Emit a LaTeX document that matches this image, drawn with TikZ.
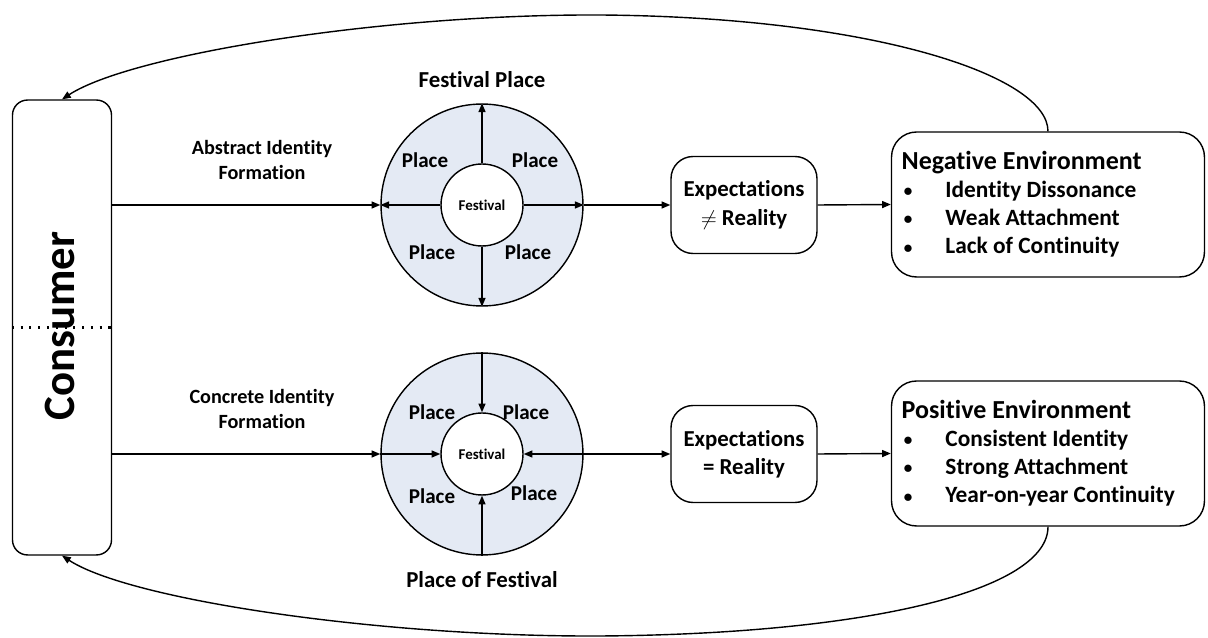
\documentclass[tikz,border=0pt]{standalone}
\usepackage{fontspec}
\setmainfont{Carlito}[Ligatures=NoCommon]
\usetikzlibrary{arrows.meta}
\definecolor{ringfill}{HTML}{E4EAF4}
\tikzset{
	arr/.style={-{Triangle[length=5pt,width=4pt]}},
	ring/.style={draw, circle, fill=ringfill, minimum size=4.04cm, inner sep=0pt},
	hub/.style={draw, circle, fill=white, minimum size=1.64cm, inner sep=0pt, font=\bfseries\fontsize{8.5}{10}\selectfont},
	place/.style={font=\bfseries\fontsize{12}{14}\selectfont},
	heading/.style={font=\bfseries\fontsize{13}{15}\selectfont},
	formlbl/.style={align=center, font=\bfseries\fontsize{11.5}{13.7}\selectfont},
	expbox/.style={draw, rounded corners=0.44cm, minimum width=2.92cm, minimum height=1.94cm, align=center, font=\bfseries\fontsize{13}{16}\selectfont},
	envbox/.style={draw, rounded corners=0.5cm, minimum width=6.26cm, minimum height=2.9cm},
	envtxt/.style={anchor=west, align=left, inner sep=0pt, font=\bfseries\fontsize{13.3}{16}\selectfont},
	dots/.style={line width=1.2pt, dash pattern=on 1.2pt off 3.8pt},
}
\newcommand{\envtitle}[1]{{\fontsize{14.8}{16}\selectfont #1}}
\newcommand{\envitem}[1]{\hspace{1pt}\raisebox{0.5pt}{\scalebox{0.75}{$\bullet$}}\hspace{18.5pt}#1}
\begin{document}
\begin{tikzpicture}[x=0.02cm, y=-0.02cm, line width=0.8pt]
	\useasboundingbox (0,0) rectangle (1208,638);
	\node[draw, rounded corners=0.3cm, minimum width=1.98cm, minimum height=9.1cm] (cons) at (62,327.5) {};
	\node[rotate=90, font=\bfseries\fontsize{25.5}{30}\selectfont] (constxt) at (60,326) {Consumer};
	\draw[dots] (cons.west) -- ([xshift=0.06cm]cons.east);

	\node[heading] (fptitle) at (482,80) {Festival Place};
	\node[ring] (fp) at (482,205) {};
	\node[hub] (fpc) at (482,205) {Festival};
	\node[place] (fp1) at (425,160) {Place};
	\node[place] (fp2) at (535,160) {Place};
	\node[place] (fp3) at (432,252) {Place};
	\node[place] (fp4) at (528,252) {Place};
	\draw[arr] (fpc.north) -- (fp.north);
	\draw[arr] (fpc.south) -- (fp.south);
	\draw[arr] (fpc.west) -- (fp.west);
	\draw[arr] (fpc.east) -- (fp.east);

	\node[ring] (pf) at (482,454) {};
	\node[hub] (pfc) at (482,454) {Festival};
	\node[place] (pf1) at (432,412) {Place};
	\node[place] (pf2) at (526,412) {Place};
	\node[place] (pf3) at (432,496) {Place};
	\node[place] (pf4) at (534,493) {Place};
	\node[heading] (pftitle) at (482,580) {Place of Festival};
	\draw[arr] (pf.north) -- (pfc.north);
	\draw[arr] (pf.south) -- (pfc.south);
	\draw[arr] (pf.west) -- (pfc.west);
	\draw[arr] (pf.east) -- (pfc.east);

	\node[formlbl] (abs) at (262,160) {Abstract Identity\\Formation};
	\node[formlbl] (conc) at (262,409) {Concrete Identity\\Formation};
	\draw[arr] (cons.east |- fp.west) -- (fp.west);
	\draw[arr] (cons.east |- pf.west) -- (pf.west);

	\node[expbox] (ex1) at (744,205) {Expectations\\$\neq$ Reality};
	\node[expbox] (ex2) at (744,454) {Expectations\\= Reality};
	\draw[arr] (fp.east) -- (ex1.west);
	\draw[arr] (pf.east) -- (ex2.west);

	\node[envbox] (neg) at (1048,204.5) {};
	\node[envtxt] (negtxt) at (901,204.5) {\envtitle{Negative Environment}\\\envitem{Identity Dissonance}\\\envitem{Weak Attachment}\\\envitem{Lack of Continuity}};
	\node[envbox] (pos) at (1048,453.5) {};
	\node[envtxt] (postxt) at (901,453.5) {\envtitle{Positive Environment}\\\envitem{Consistent Identity}\\\envitem{Strong Attachment}\\\envitem{Year-on-year Continuity}};
	\draw[arr] (ex1.east) -- (neg.west);
	\draw[arr] (ex2.east) -- (pos.west);

	\draw[arr] (neg.north) .. controls (1048,75) and (870,17) .. (600,15) .. controls (380,14) and (130,55) .. (cons.north);
	\draw[arr] (pos.south) .. controls (1048,590) and (870,634) .. (600,636) .. controls (380,637) and (130,600) .. (cons.south);
\end{tikzpicture}
\end{document}
